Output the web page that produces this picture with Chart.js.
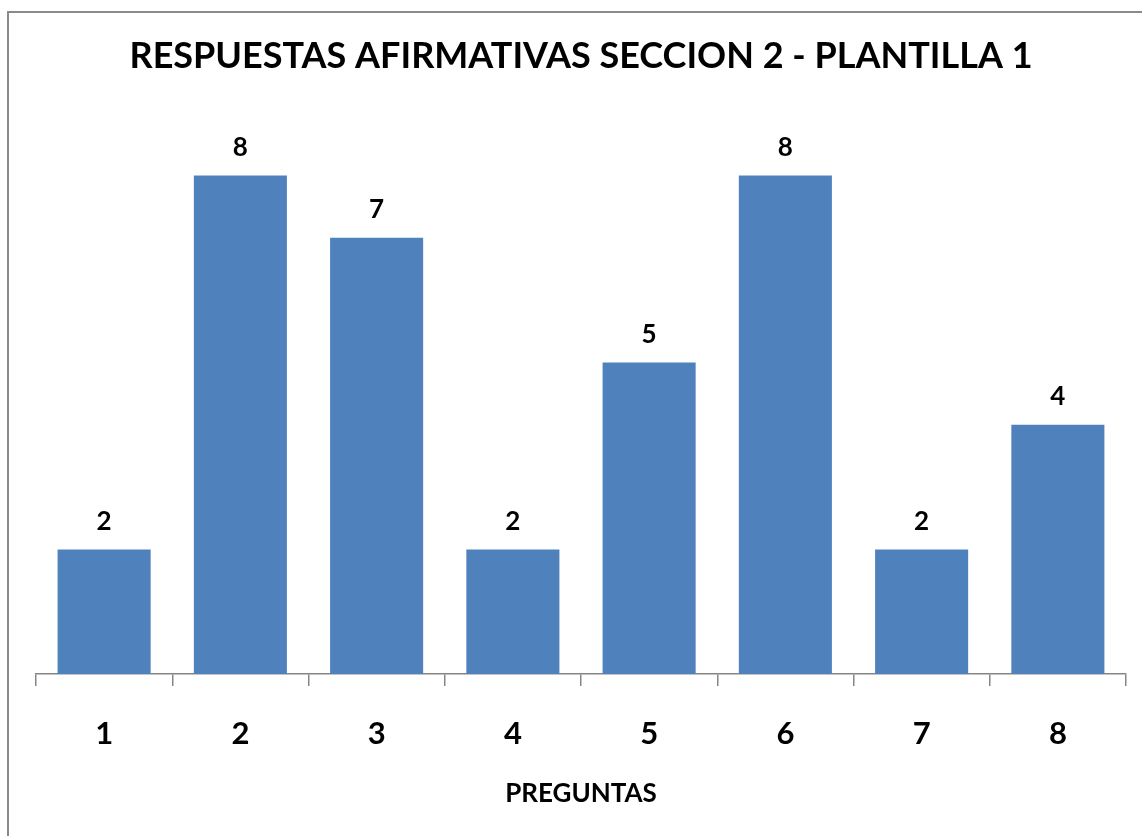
<!DOCTYPE html>
<html>
<head>
<meta charset="utf-8">
<script src="https://cdn.jsdelivr.net/npm/chart.js@4.4.1/dist/chart.umd.min.js"></script>
<style>
  html, body { margin: 0; padding: 0; background: #fff; overflow: hidden; }
  #frame {
    position: absolute; left: 7px; top: 11px;
    width: 1200px; height: 900px;
    border-left: 2px solid #8a8a8a; border-top: 2px solid #8a8a8a;
  }
  #wrap { position: absolute; left: 0; top: 0; width: 1142px; height: 836px; }
</style>
</head>
<body>
<div id="frame"></div>
<div id="wrap"><canvas id="chart"></canvas></div>
<script>
// Data
const preguntas = ["1", "2", "3", "4", "5", "6", "7", "8"];
const afirmativas = [2, 8, 7, 2, 5, 8, 2, 4];
const titulo = "RESPUESTAS AFIRMATIVAS SECCION 2 - PLANTILLA 1";

const FONT = "Lato, 'Open Sans', sans-serif";

// value labels above each bar
const valueLabels = {
  id: 'valueLabels',
  afterDatasetsDraw(chart) {
    const ctx = chart.ctx;
    const meta = chart.getDatasetMeta(0);
    ctx.save();
    ctx.font = "bold 26px " + FONT;
    ctx.fillStyle = "#000";
    ctx.textAlign = "center";
    ctx.textBaseline = "middle";
    meta.data.forEach((bar, i) => {
      ctx.fillText(afirmativas[i], bar.x, bar.y - 28);
    });
    ctx.restore();
  }
};

const ctx = document.getElementById("chart").getContext("2d");
const chart = new Chart(ctx, {
  type: 'bar',
  data: {
    labels: preguntas,
    datasets: [{
      data: afirmativas,
      backgroundColor: "#4F81BD",
      borderWidth: 0,
      categoryPercentage: 1,
      barPercentage: 0.683
    }]
  },
  options: {
    responsive: true,
    maintainAspectRatio: false,
    animation: false,
    layout: { padding: { left: 36, right: 16, top: 0, bottom: 0 } },
    plugins: {
      legend: { display: false },
      tooltip: { enabled: false },
      title: {
        display: true,
        text: titulo,
        color: "#000",
        font: { family: FONT, size: 36, weight: 'bold', lineHeight: 1.2 },
        padding: { top: 35, bottom: 35 }
      }
    },
    scales: {
      y: {
        display: false,
        min: 0,
        max: 9
      },
      x: {
        border: { display: true, color: "#868686", width: 1.5 },
        grid: {
          display: true,
          offset: true,
          drawOnChartArea: false,
          drawTicks: true,
          tickLength: 12,
          color: "#868686",
          lineWidth: 1.5
        },
        ticks: {
          color: "#000",
          padding: 29,
          font: { family: FONT, size: 31, weight: 'bold' }
        },
        title: {
          display: true,
          text: "PREGUNTAS",
          color: "#000",
          font: { family: FONT, size: 26, weight: 'bold', lineHeight: 1.2 },
          padding: 27
        },
        afterFit(scale) { scale.height = 162; }
      }
    }
  },
  plugins: [valueLabels]
});
</script>
</body>
</html>
